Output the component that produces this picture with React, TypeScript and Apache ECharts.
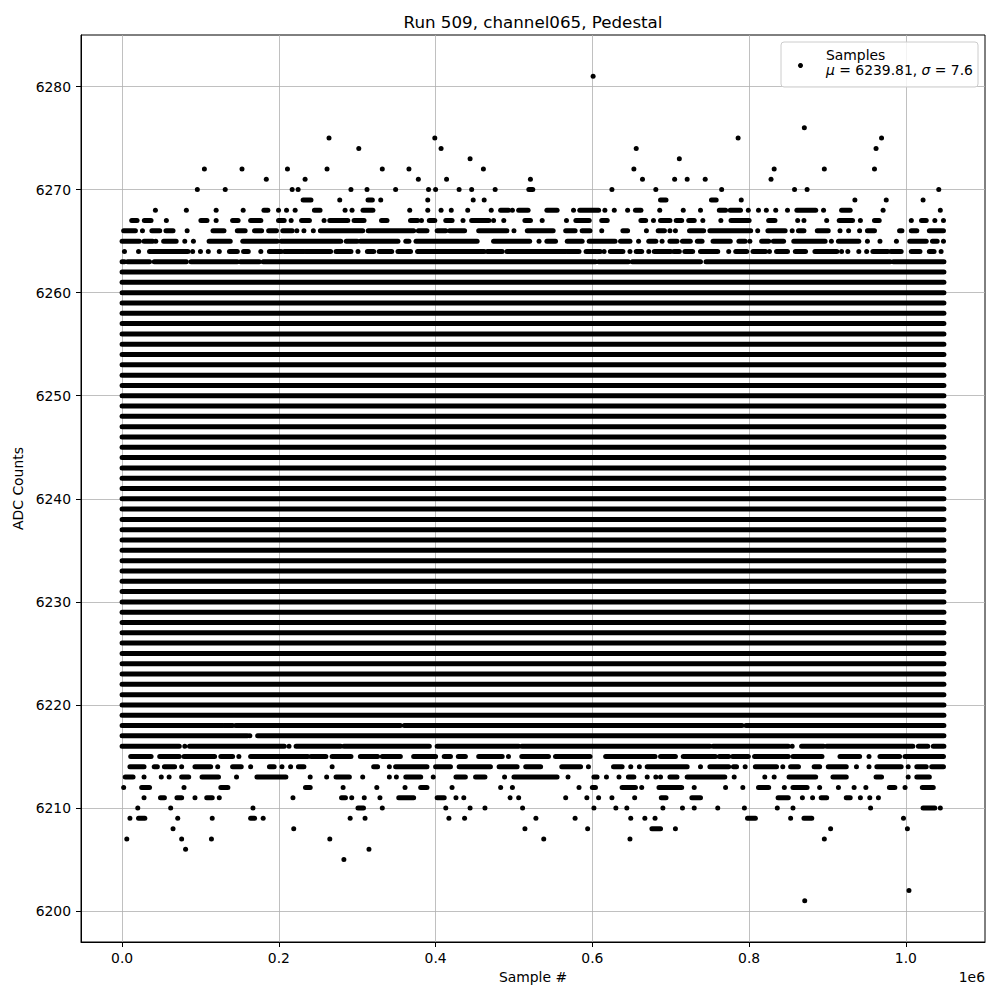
import React, { useEffect, useRef } from 'react';
import * as echarts from 'echarts';

const chartTitle = 'Run 509, channel065, Pedestal';
const xName = 'Sample #';
const yName = 'ADC Counts';
const xOffsetText = '1e6';
const seriesName = 'Samples';
const legendStats = { mu: '6239.81', sigma: '7.6' };

const xTicks = [0, 0.2, 0.4, 0.6, 0.8, 1.0];
const yTicks = [6200, 6210, 6220, 6230, 6240, 6250, 6260, 6270, 6280];
const xRange = [-0.0524288, 1.1010048];
const yRange = [6197, 6285];

// first and last sample index (in units of 1e6)
const sampleRange: [number, number] = [0, 1.048575];

// ADC levels whose samples cover the whole run continuously
const denseLevels = [
  6219, 6220, 6221, 6222, 6223, 6224, 6225, 6226, 6227, 6228, 6229, 6230,
  6231, 6232, 6233, 6234, 6235, 6236, 6237, 6238, 6239, 6240, 6241, 6242,
  6243, 6244, 6245, 6246, 6247, 6248, 6249, 6250, 6251, 6252, 6253, 6254,
  6255, 6256, 6257, 6258, 6259, 6260, 6261, 6262,
];

type Run = number | [number, number];

// Sparse levels: single samples (number) or runs of adjacent samples [from, to]
const row6281: Run[] = [0.601];
const row6276: Run[] = [0.8705];
const row6275: Run[] = [0.264, 0.399, 0.786, 0.969];
const row6274: Run[] = [0.302, 0.407, 0.656, 0.962];
const row6273: Run[] = [0.444, 0.711];
const row6272: Run[] = [0.105, 0.153, 0.211, 0.2615, 0.332, 0.366, 0.461, 0.653, 0.832, 0.896, 0.96];
const row6271: Run[] = [0.184, 0.2335, 0.378, 0.414, 0.521, 0.664, 0.705, 0.721, 0.744, 0.828];
const row6270: Run[] = [0.096, 0.1316, 0.217, 0.2246, 0.292, 0.3125, 0.349, 0.391, 0.4, 0.43, 0.446, 0.476, [0.519, 0.524], 0.625, 0.681, 0.765, 0.858, 0.874, 1.042];
const row6269: Run[] = [[0.231, 0.241], 0.2777, [0.3138, 0.3193], 0.33, 0.39, 0.448, 0.462, [0.687, 0.694], [0.752, 0.758], 0.79, 0.935, 0.975, 1.022];
const row6268: Run[] = [0.0425, 0.082, 0.12, 0.1545, [0.181, 0.186], 0.1996, 0.2098, 0.2208, [0.2454, 0.2526], 0.2845, 0.2934, [0.3074, 0.32], 0.367, 0.39, 0.407, 0.42, 0.441, 0.471, [0.483, 0.493], 0.498, [0.506, 0.518], [0.542, 0.555], 0.576, [0.584, 0.608], 0.616, 0.628, 0.645, [0.655, 0.662], 0.686, 0.716, 0.738, [0.762, 0.77], [0.776, 0.789], 0.799, 0.812, 0.822, 0.834, 0.849, [0.861, 0.885], 0.895, [0.918, 0.929], 0.971, 1.044];
const row6267: Run[] = [[0.0123, 0.0191], [0.0284, 0.0369], 0.0565, [0.1006, 0.1083], 0.12, [0.141, 0.148], [0.164, 0.177], [0.1996, 0.2068], 0.2157, [0.229, 0.239], 0.2577, [0.265, 0.288], [0.296, 0.3087], [0.331, 0.338], [0.368, 0.377], 0.382, [0.392, 0.399], [0.413, 0.421], 0.435, [0.446, 0.468], 0.474, 0.487, [0.514, 0.521], 0.536, 0.567, [0.579, 0.596], [0.612, 0.619], [0.662, 0.668], 0.678, [0.687, 0.699], [0.707, 0.714], [0.723, 0.73], 0.741, 0.764, [0.777, 0.8], [0.825, 0.833], 0.862, 0.87, 0.899, [0.915, 0.932], 0.942, [0.96, 0.966], 1.007, [1.02, 1.026], 1.037, 1.048];
const row6266: Run[] = [[0.002, 0.017], 0.026, [0.038, 0.048], [0.056, 0.065], 0.083, [0.116, 0.13], [0.147, 0.157], [0.169, 0.178], [0.187, 0.197], [0.205, 0.217], 0.223, 0.232, 0.244, [0.253, 0.307], [0.314, 0.372], [0.378, 0.389], [0.402, 0.413], [0.418, 0.437], [0.455, 0.491], 0.5, [0.517, 0.55], [0.566, 0.578], [0.587, 0.597], 0.612, [0.639, 0.645], 0.669, [0.684, 0.692], 0.699, 0.706, [0.724, 0.742], [0.75, 0.802], 0.811, [0.824, 0.846], 0.855, [0.863, 0.87], [0.887, 0.901], 0.916, 0.927, 0.941, [0.951, 0.96], [0.992, 0.995], [1.007, 1.014], [1.03, 1.048]];
const row6265: Run[] = [[0, 0.022], [0.028, 0.039], 0.043, [0.053, 0.069], 0.08, 0.091, [0.111, 0.138], [0.154, 0.198], [0.203, 0.279], [0.286, 0.3], [0.304, 0.352], [0.362, 0.366], [0.375, 0.453], [0.474, 0.52], 0.532, [0.542, 0.553], [0.568, 0.587], [0.596, 0.629], [0.636, 0.648], 0.659, [0.672, 0.681], 0.689, [0.699, 0.708], [0.715, 0.725], [0.734, 0.74], [0.754, 0.776], [0.787, 0.795], 0.801, [0.816, 0.825], [0.831, 0.844], [0.857, 0.897], 0.905, [0.914, 0.94], 0.951, 0.967, 0.988, [1.005, 1.026], [1.034, 1.04], 1.048];
const row6264: Run[] = [0.003, 0.021, [0.035, 0.084], 0.09, 0.1, 0.11, 0.124, [0.137, 0.147], [0.155, 0.161], 0.177, [0.188, 0.203], [0.207, 0.232], [0.234, 0.266], [0.273, 0.292], 0.301, [0.313, 0.321], [0.328, 0.344], [0.352, 0.368], [0.377, 0.462], [0.466, 0.485], [0.491, 0.566], [0.568, 0.583], [0.592, 0.61], 0.615, [0.623, 0.639], 0.648, [0.656, 0.663], 0.672, [0.679, 0.7], [0.704, 0.711], [0.718, 0.728], [0.738, 0.76], 0.774, [0.783, 0.797], [0.805, 0.821], 0.826, [0.835, 0.849], [0.859, 0.872], [0.884, 0.912], 0.918, 0.926, 0.94, 0.95, [0.958, 0.977], [0.981, 0.994], [1.007, 1.018], [1.03, 1.036], 1.045];
const row6263: Run[] = [[0, 0.003], [0.007, 0.035], [0.041, 0.082], [0.088, 0.147], [0.151, 0.175], [0.18, 0.604], [0.608, 0.646], [0.651, 0.738], [0.745, 0.98], [0.984, 1.048575]];
const row6218: Run[] = [[0, 0.128], [0.13, 0.141], [0.145, 0.355], [0.36, 0.791], [0.796, 1.048575]];
const row6217: Run[] = [[0, 0.16], 0.163, [0.173, 1.048575]];
const row6216: Run[] = [[0, 0.073], 0.08, [0.086, 0.207], 0.213, [0.222, 0.279], [0.283, 0.392], [0.402, 0.506], [0.51, 0.75], [0.754, 0.85], 0.855, [0.867, 0.895], [0.899, 1.009], [1.016, 1.028], [1.035, 1.048575]];
const row6215: Run[] = [[0.011, 0.037], [0.048, 0.073], [0.079, 0.118], [0.126, 0.141], 0.149, [0.164, 0.237], [0.241, 0.26], [0.268, 0.292], [0.304, 0.326], [0.332, 0.355], [0.372, 0.4], [0.411, 0.419], [0.429, 0.438], [0.455, 0.485], 0.493, [0.51, 0.544], [0.553, 0.597], [0.617, 0.68], [0.687, 0.706], [0.716, 0.757], [0.762, 0.774], [0.779, 0.799], [0.807, 0.85], [0.856, 0.893], [0.916, 0.941], 0.953, [0.967, 0.992], [0.999, 1.048]];
const row6214: Run[] = [[0.01, 0.028], [0.041, 0.045], [0.054, 0.067], 0.076, [0.093, 0.113], 0.122, [0.141, 0.152], 0.164, [0.188, 0.194], 0.204, 0.215, [0.225, 0.232], 0.268, [0.321, 0.326], 0.341, [0.349, 0.389], [0.4, 0.419], [0.43, 0.47], [0.481, 0.504], [0.515, 0.534], [0.561, 0.585], 0.595, [0.627, 0.638], 0.649, 0.66, [0.67, 0.721], 0.738, [0.75, 0.774], [0.78, 0.784], 0.795, [0.808, 0.835], 0.843, [0.853, 0.863], [0.883, 0.89], [0.901, 0.924], 0.937, 0.953, [0.963, 0.994], 1.003, [1.014, 1.026], [1.033, 1.048]];
const row6213: Run[] = [[0.004, 0.014], 0.028, 0.05, 0.06, [0.076, 0.085], [0.102, 0.123], 0.146, [0.172, 0.209], 0.24, 0.261, [0.273, 0.29], 0.307, 0.341, 0.35, [0.362, 0.381], 0.397, [0.426, 0.438], [0.451, 0.463], 0.488, [0.5, 0.555], 0.569, [0.602, 0.606], 0.618, 0.634, [0.646, 0.653], 0.67, 0.681, 0.687, [0.699, 0.708], [0.721, 0.769], 0.781, 0.82, 0.832, [0.851, 0.885], [0.907, 0.924], [0.962, 0.969], 1.003, [1.014, 1.03]];
const row6212: Run[] = [0.002, [0.025, 0.035], 0.079, [0.126, 0.135], [0.234, 0.24], 0.282, 0.325, 0.361, [0.381, 0.389], 0.421, 0.483, 0.498, 0.583, [0.6, 0.604], [0.638, 0.655], 0.663, [0.685, 0.714], 0.73, 0.77, 0.792, [0.812, 0.825], 0.845, [0.856, 0.874], 0.89, 0.914, 0.934, 0.949, [0.979, 0.986], 0.999, [1.021, 1.035]];
const row6211: Run[] = [0.028, [0.049, 0.054], [0.07, 0.076], 0.093, [0.108, 0.115], 0.124, 0.218, [0.28, 0.285], 0.293, 0.309, 0.329, [0.353, 0.372], [0.402, 0.411], 0.426, 0.436, 0.495, 0.506, 0.566, 0.593, 0.608, 0.625, 0.654, [0.688, 0.694], [0.727, 0.738], [0.837, 0.85], 0.868, 0.881, [0.892, 0.899], [0.924, 0.929], 0.942, 0.954, 0.965];
const row6210: Run[] = [0.02, 0.062, 0.167, [0.301, 0.308], 0.332, 0.413, 0.444, 0.463, 0.511, 0.602, 0.63, 0.644, 0.69, 0.715, 0.73, 0.76, 0.794, 0.836, 0.856, 0.955, [1.022, 1.037], 1.044];
const row6209: Run[] = [0.01, [0.021, 0.029], 0.071, 0.115, [0.164, 0.169], 0.18, 0.291, 0.31, 0.417, 0.437, 0.528, 0.578, 0.649, 0.667, 0.68, [0.798, 0.808], 0.853, [0.87, 0.88], 0.997];
const row6208: Run[] = [0.065, 0.219, 0.514, 0.594, [0.676, 0.687], 0.706, 0.904, 1.002];
const row6207: Run[] = [0.006, 0.076, 0.114, 0.265, 0.538, 0.648, 0.896];
const row6206: Run[] = [0.081, 0.315];
const row6205: Run[] = [0.283];
const row6202: Run[] = [1.004];
const row6201: Run[] = [0.871];

const sparseRows: [number, Run[]][] = [
  [6281, row6281], [6276, row6276], [6275, row6275], [6274, row6274],
  [6273, row6273], [6272, row6272], [6271, row6271], [6270, row6270],
  [6269, row6269], [6268, row6268], [6267, row6267], [6266, row6266],
  [6265, row6265], [6264, row6264], [6263, row6263],
  [6218, row6218], [6217, row6217], [6216, row6216], [6215, row6215],
  [6214, row6214], [6213, row6213], [6212, row6212], [6211, row6211],
  [6210, row6210], [6209, row6209], [6208, row6208], [6207, row6207],
  [6206, row6206], [6205, row6205], [6202, row6202], [6201, row6201],
];

const FONT = 'DejaVu Sans';
const FS = 13.9;

function buildData(): number[][] {
  const out: number[][] = [];
  denseLevels.forEach((lv) => out.push([sampleRange[0], sampleRange[1], lv]));
  sparseRows.forEach(([lv, runs]) => {
    runs.forEach((r) => {
      if (typeof r === 'number') out.push([r, r, lv]);
      else out.push([r[0], r[1], lv]);
    });
  });
  return out;
}

export default function App() {
  const ref = useRef<HTMLDivElement>(null);
  useEffect(() => {
    if (!ref.current) return;
    const chart = echarts.init(ref.current, null, { renderer: 'svg' });
    const R = 2.5;
    const option: any = {
      animation: false,
      backgroundColor: '#ffffff',
      grid: {
        left: 81,
        right: 15,
        top: 35,
        bottom: 58,
        show: true,
        borderColor: '#000',
        borderWidth: 1,
        backgroundColor: 'transparent',
      },
      xAxis: {
        type: 'value',
        min: xRange[0],
        max: xRange[1],
        minInterval: 0.2,
        maxInterval: 0.2,
        name: xName,
        nameLocation: 'middle',
        nameGap: 28,
        nameTextStyle: { fontFamily: FONT, fontSize: FS, color: '#000' },
        axisLine: { show: true, onZero: false, lineStyle: { color: '#000', width: 1 } },
        axisTick: { show: true, inside: false, length: 5, customValues: xTicks, lineStyle: { color: '#000', width: 1 } },
        axisLabel: {
          customValues: xTicks,
          margin: 9,
          color: '#000',
          fontFamily: FONT,
          fontSize: FS,
          formatter: (v: number) => v.toFixed(1),
        },
        splitLine: { show: true, lineStyle: { color: '#b0b0b0', width: 0.8 } },
      },
      yAxis: {
        type: 'value',
        min: yRange[0],
        max: yRange[1],
        minInterval: 10,
        maxInterval: 10,
        name: yName,
        nameLocation: 'middle',
        nameGap: 26,
        nameRotate: 90,
        nameTextStyle: { fontFamily: FONT, fontSize: FS, color: '#000' },
        axisLine: { show: true, onZero: false, lineStyle: { color: '#000', width: 1 } },
        axisTick: { show: true, inside: false, length: 5, customValues: yTicks, lineStyle: { color: '#000', width: 1 } },
        axisLabel: {
          customValues: yTicks,
          margin: 10,
          color: '#000',
          fontFamily: FONT,
          fontSize: FS,
          formatter: (v: number) => String(Math.round(v)),
        },
        splitLine: { show: true, lineStyle: { color: '#b0b0b0', width: 0.8 } },
      },
      graphic: [
        {
          type: 'text',
          x: 533,
          y: 22,
          z: 100,
          style: {
            text: chartTitle,
            font: `16.7px "${FONT}"`,
            fill: '#000',
            align: 'center',
            verticalAlign: 'middle',
          },
        },
        {
          type: 'text',
          x: 985,
          y: 977,
          z: 100,
          style: { text: xOffsetText, font: `${FS}px "${FONT}"`, fill: '#000', align: 'right', verticalAlign: 'middle' },
        },
        {
          type: 'group',
          z: 100,
          children: [
            {
              type: 'rect',
              z: 100,
              shape: { x: 781, y: 42, width: 197, height: 45, r: 3 },
              style: { fill: 'rgba(255,255,255,0.8)', stroke: '#cccccc', lineWidth: 1 },
            },
            {
              type: 'circle',
              z: 101,
              shape: { cx: 800.5, cy: 65.5, r: 2.5 },
              style: { fill: '#000' },
            },
            {
              type: 'text',
              z: 101,
              x: 826,
              y: 55,
              style: { text: seriesName, font: `${FS}px "${FONT}"`, fill: '#000', verticalAlign: 'middle' },
            },
            {
              type: 'text',
              z: 101,
              x: 826,
              y: 70,
              style: {
                text: `{it|μ} = ${legendStats.mu}, {it|σ} = ${legendStats.sigma}`,
                font: `${FS}px "${FONT}"`,
                fill: '#000',
                verticalAlign: 'middle',
                rich: {
                  it: { fontFamily: FONT, fontSize: FS, fontStyle: 'italic', fill: '#000' },
                },
              },
            },
          ],
        },
      ],
      series: [
        {
          name: seriesName,
          type: 'custom',
          itemStyle: { color: '#000' },
          encode: { x: [0, 1], y: 2 },
          data: buildData(),
          renderItem: (_params: any, api: any) => {
            const lv = api.value(2);
            const a = api.coord([api.value(0), lv]);
            const b = api.coord([api.value(1), lv]);
            return {
              type: 'rect',
              shape: { x: a[0] - R, y: a[1] - R, width: b[0] - a[0] + 2 * R, height: 2 * R, r: R },
              style: { fill: '#000' },
            };
          },
        },
      ],
    };
    chart.setOption(option);
    return () => chart.dispose();
  }, []);
  return <div ref={ref} style={{ position: 'fixed', left: 0, top: 0, width: 1000, height: 1000 }} />;
}
